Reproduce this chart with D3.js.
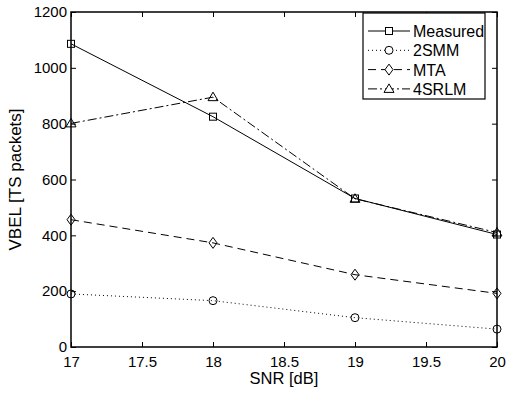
<!DOCTYPE html>
<html><head><meta charset="utf-8">
<script src="https://cdn.jsdelivr.net/npm/d3@7"></script>
<style>body{margin:0;background:#fff}svg{display:block}text{font-family:"Liberation Sans",Arial,sans-serif}</style>
</head><body><svg id="c" width="506" height="394"></svg>
<script>
const snr = [17, 18, 19, 20];
const measured = [1086, 825, 532, 403];
const smm2 = [190, 166, 105, 64];
const mta = [456, 373, 259, 192];
const srlm4 = [801, 895, 531, 410];
const xTicks = [17, 17.5, 18, 18.5, 19, 19.5, 20];
const yTicks = [0, 200, 400, 600, 800, 1000, 1200];
const seriesNames = ["Measured", "2SMM", "MTA", "4SRLM"];

const svg = d3.select("#c");
const L = 71, R = 497, T = 12, B = 347;
const x = d3.scaleLinear().domain([17, 20]).range([L, R]);
const y = d3.scaleLinear().domain([0, 1200]).range([B, T]);

const series = [
  {name: seriesNames[0], v: measured, dash: null, m: "square"},
  {name: seriesNames[1], v: smm2, dash: "1,3", m: "circle"},
  {name: seriesNames[2], v: mta, dash: "8,5", m: "diamond"},
  {name: seriesNames[3], v: srlm4, dash: "9,3,2,3", m: "triangle"}
];

function marker(g, type, cx, cy) {
  if (type === "square") g.append("rect").attr("x", cx-3.5).attr("y", cy-3.5).attr("width", 7).attr("height", 7);
  else if (type === "circle") g.append("circle").attr("cx", cx).attr("cy", cy).attr("r", 4);
  else if (type === "diamond") g.append("path").attr("d", `M${cx},${cy-5.5}L${cx+4},${cy}L${cx},${cy+5.5}L${cx-4},${cy}Z`);
  else g.append("path").attr("d", `M${cx},${cy-5}L${cx+5},${cy+3.5}L${cx-5},${cy+3.5}Z`);
}

const axB = d3.axisBottom(x).tickValues(xTicks).tickSize(-5).tickPadding(9).tickFormat(d3.format("~g"));
const axT = d3.axisTop(x).tickValues(xTicks).tickSize(-5).tickFormat("");
const axL = d3.axisLeft(y).tickValues(yTicks).tickSize(-5).tickPadding(4).tickFormat(d3.format("d"));
const axR = d3.axisRight(y).tickValues(yTicks).tickSize(-5).tickFormat("");
function style(g){ g.select(".domain").remove(); g.selectAll("line").attr("stroke","#000"); g.selectAll("text").attr("font-size",15).attr("fill","#000").attr("font-family","Liberation Sans, Arial, sans-serif"); }
svg.append("g").attr("transform",`translate(0,${B})`).call(axB).call(style);
svg.append("g").attr("transform",`translate(0,${T})`).call(axT).call(style);
svg.append("g").attr("transform",`translate(${L},0)`).call(axL).call(style);
svg.append("g").attr("transform",`translate(${R},0)`).call(axR).call(style);

const line = d3.line().x((d,i)=>x(snr[i])).y(d=>y(d));
series.forEach(s=>{
  svg.append("path").attr("d", line(s.v)).attr("fill","none").attr("stroke","#000").attr("stroke-width",1)
    .attr("stroke-dasharray", s.dash);
  const g = svg.append("g").attr("fill","none").attr("stroke","#000").attr("stroke-width",1);
  s.v.forEach((d,i)=>marker(g, s.m, x(snr[i]), y(d)));
});

svg.append("rect").attr("x",L).attr("y",T).attr("width",R-L).attr("height",B-T).attr("fill","none").attr("stroke","#000").attr("stroke-width",1.5);

const lg = svg.append("g");
lg.append("rect").attr("x",363).attr("y",13).attr("width",122).attr("height",86).attr("fill","#fff").attr("stroke","#000").attr("stroke-width",1.2);
series.forEach((s,i)=>{
  const yy = 31 + i*19.3;
  lg.append("line").attr("x1",368).attr("x2",410).attr("y1",yy).attr("y2",yy).attr("stroke","#000").attr("stroke-dasharray", s.dash);
  const g = lg.append("g").attr("fill","#fff").attr("stroke","#000");
  marker(g, s.m, 389, yy);
  lg.append("text").attr("x",413).attr("y",yy+6).attr("font-size",16).text(s.name);
});

svg.append("text").attr("x",(L+R)/2).attr("y",384).attr("text-anchor","middle").attr("font-size",16.5).text("SNR [dB]");
svg.append("text").attr("transform",`translate(21,${(T+B)/2}) rotate(-90)`).attr("text-anchor","middle").attr("font-size",17).text("VBEL [TS packets]");
</script></body></html>
